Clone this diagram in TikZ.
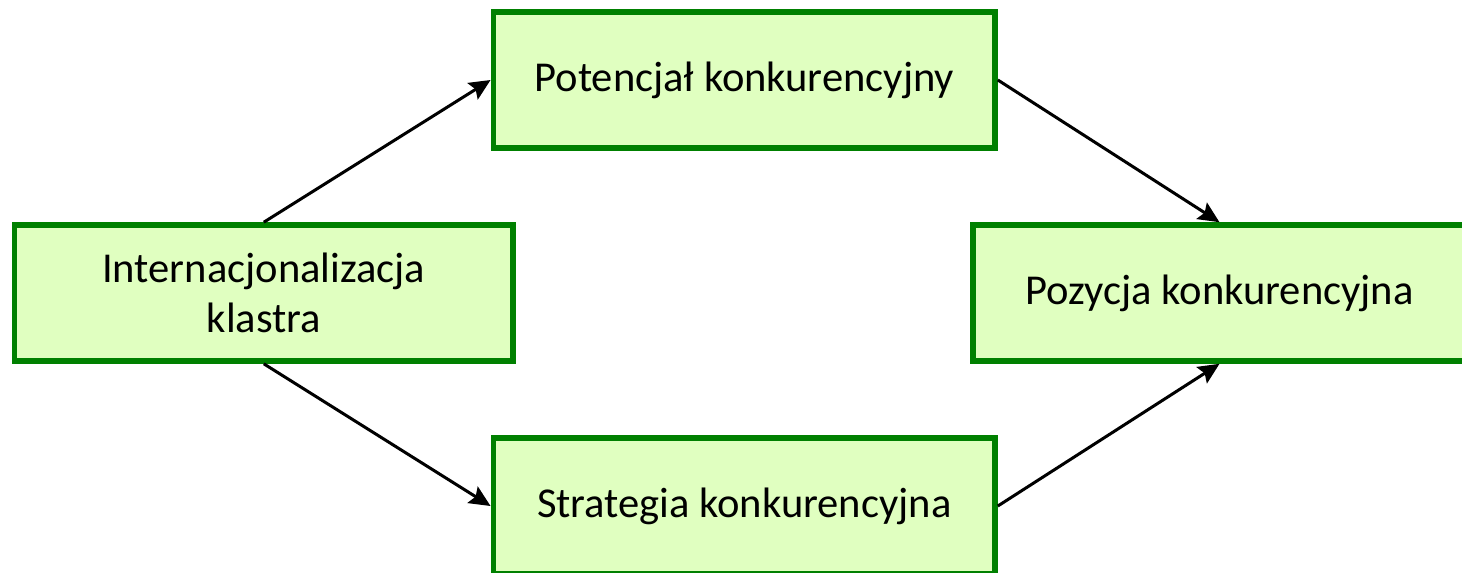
\documentclass[tikz,border=0pt]{standalone}
\usepackage{fontspec}
\setmainfont{Carlito}
\usetikzlibrary{arrows.meta}
\definecolor{boxline}{RGB}{0,128,0}
\definecolor{boxfill}{RGB}{224,255,192}
\begin{document}
\begin{tikzpicture}[x=0.01cm,y=-0.01cm,
  greenbox/.style={draw=boxline,fill=boxfill,line width=0.055cm,inner sep=0pt,
    minimum height=1.36cm,align=center,font=\fontsize{12.1pt}{14.2pt}\selectfont},
  conn/.style={line width=0.03cm,-{Stealth[length=6pt,width=5.5pt,inset=1pt]}}]
\useasboundingbox (0,0) rectangle (1462,572);
\clip (0,0) rectangle (1462,572);
\node[greenbox,minimum width=4.984cm] (inter) at (263.8,293) {Internacjonalizacja\\klastra};
\node[greenbox,minimum width=5.015cm] (pot) at (744.2,80) {\raisebox{-1pt}{Potencjał konkurencyjny}};
\node[greenbox,minimum width=4.93cm] (poz) at (1219.5,293) {\raisebox{-1pt}{Pozycja konkurencyjna}};
\node[greenbox,minimum width=5.015cm] (str) at (744.2,506) {\raisebox{-1pt}{Strategia konkurencyjna}};
\draw[conn] (inter.north) -- (pot.west);
\draw[conn] (pot.east) -- (poz.north);
\draw[conn] (inter.south) -- (str.west);
\draw[conn] (str.east) -- (poz.south);
\end{tikzpicture}
\end{document}
